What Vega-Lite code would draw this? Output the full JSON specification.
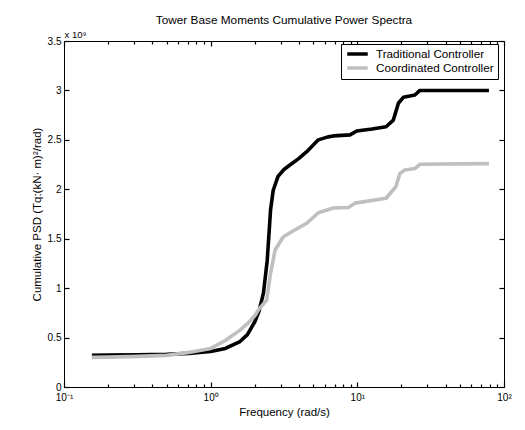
{
  "$schema": "https://vega.github.io/schema/vega-lite/v6.json",
  "width": 440,
  "height": 346,
  "autosize": "none",
  "padding": {"left": 64, "top": 41, "right": 21, "bottom": 43},
  "background": "white",
  "title": {"text": "Tower Base Moments Cumulative Power Spectra", "fontSize": 11.8, "fontWeight": "normal", "font": "Liberation Sans", "color": "black", "anchor": "middle", "frame": "group", "offset": 2},
  "config": {
    "view": {"stroke": "black", "strokeWidth": 1},
    "font": "Liberation Sans",
    "axis": {"grid": false, "domain": false, "labelFont": "Liberation Sans", "labelFontSize": 10, "labelColor": "black", "titleFont": "Liberation Sans", "titleFontSize": 11.5, "titleFontWeight": "normal", "titleColor": "black"}
  },
  "datasets": {
    "psd": [
      {"controller": "Traditional Controller", "freq": 0.155, "psd": 3.2e8},
      {"controller": "Traditional Controller", "freq": 0.2, "psd": 3.22e8},
      {"controller": "Traditional Controller", "freq": 0.316, "psd": 3.25e8},
      {"controller": "Traditional Controller", "freq": 0.5, "psd": 3.3e8},
      {"controller": "Traditional Controller", "freq": 0.71, "psd": 3.4e8},
      {"controller": "Traditional Controller", "freq": 1.0, "psd": 3.6e8},
      {"controller": "Traditional Controller", "freq": 1.26, "psd": 3.9e8},
      {"controller": "Traditional Controller", "freq": 1.585, "psd": 4.6e8},
      {"controller": "Traditional Controller", "freq": 1.78, "psd": 5.3e8},
      {"controller": "Traditional Controller", "freq": 2.0, "psd": 6.6e8},
      {"controller": "Traditional Controller", "freq": 2.14, "psd": 7.7e8},
      {"controller": "Traditional Controller", "freq": 2.29, "psd": 9.5e8},
      {"controller": "Traditional Controller", "freq": 2.43, "psd": 1.28e9},
      {"controller": "Traditional Controller", "freq": 2.56, "psd": 1.79e9},
      {"controller": "Traditional Controller", "freq": 2.67, "psd": 1.99e9},
      {"controller": "Traditional Controller", "freq": 2.88, "psd": 2.13e9},
      {"controller": "Traditional Controller", "freq": 3.16, "psd": 2.2e9},
      {"controller": "Traditional Controller", "freq": 3.47, "psd": 2.245e9},
      {"controller": "Traditional Controller", "freq": 3.98, "psd": 2.31e9},
      {"controller": "Traditional Controller", "freq": 4.52, "psd": 2.38e9},
      {"controller": "Traditional Controller", "freq": 5.42, "psd": 2.5e9},
      {"controller": "Traditional Controller", "freq": 6.31, "psd": 2.53e9},
      {"controller": "Traditional Controller", "freq": 6.86, "psd": 2.54e9},
      {"controller": "Traditional Controller", "freq": 8.91, "psd": 2.55e9},
      {"controller": "Traditional Controller", "freq": 9.91, "psd": 2.59e9},
      {"controller": "Traditional Controller", "freq": 12.6, "psd": 2.61e9},
      {"controller": "Traditional Controller", "freq": 15.7, "psd": 2.633e9},
      {"controller": "Traditional Controller", "freq": 17.6, "psd": 2.7e9},
      {"controller": "Traditional Controller", "freq": 19.05, "psd": 2.87e9},
      {"controller": "Traditional Controller", "freq": 20.6, "psd": 2.93e9},
      {"controller": "Traditional Controller", "freq": 24.7, "psd": 2.954e9},
      {"controller": "Traditional Controller", "freq": 26.7, "psd": 3.0e9},
      {"controller": "Traditional Controller", "freq": 39.8, "psd": 3.0e9},
      {"controller": "Traditional Controller", "freq": 79, "psd": 3.0e9},
      {"controller": "Coordinated Controller", "freq": 0.155, "psd": 3.0e8},
      {"controller": "Coordinated Controller", "freq": 0.2, "psd": 3.02e8},
      {"controller": "Coordinated Controller", "freq": 0.316, "psd": 3.1e8},
      {"controller": "Coordinated Controller", "freq": 0.5, "psd": 3.2e8},
      {"controller": "Coordinated Controller", "freq": 0.71, "psd": 3.5e8},
      {"controller": "Coordinated Controller", "freq": 1.0, "psd": 3.9e8},
      {"controller": "Coordinated Controller", "freq": 1.26, "psd": 4.7e8},
      {"controller": "Coordinated Controller", "freq": 1.585, "psd": 5.75e8},
      {"controller": "Coordinated Controller", "freq": 1.78, "psd": 6.4e8},
      {"controller": "Coordinated Controller", "freq": 2.0, "psd": 7.2e8},
      {"controller": "Coordinated Controller", "freq": 2.14, "psd": 7.9e8},
      {"controller": "Coordinated Controller", "freq": 2.29, "psd": 8.4e8},
      {"controller": "Coordinated Controller", "freq": 2.41, "psd": 8.8e8},
      {"controller": "Coordinated Controller", "freq": 2.56, "psd": 1.15e9},
      {"controller": "Coordinated Controller", "freq": 2.75, "psd": 1.386e9},
      {"controller": "Coordinated Controller", "freq": 3.13, "psd": 1.52e9},
      {"controller": "Coordinated Controller", "freq": 3.76, "psd": 1.59e9},
      {"controller": "Coordinated Controller", "freq": 4.52, "psd": 1.656e9},
      {"controller": "Coordinated Controller", "freq": 5.42, "psd": 1.763e9},
      {"controller": "Coordinated Controller", "freq": 6.86, "psd": 1.81e9},
      {"controller": "Coordinated Controller", "freq": 8.69, "psd": 1.815e9},
      {"controller": "Coordinated Controller", "freq": 9.64, "psd": 1.86e9},
      {"controller": "Coordinated Controller", "freq": 15.7, "psd": 1.909e9},
      {"controller": "Coordinated Controller", "freq": 18.3, "psd": 2.026e9},
      {"controller": "Coordinated Controller", "freq": 19.5, "psd": 2.16e9},
      {"controller": "Coordinated Controller", "freq": 21.1, "psd": 2.195e9},
      {"controller": "Coordinated Controller", "freq": 24.7, "psd": 2.21e9},
      {"controller": "Coordinated Controller", "freq": 26.7, "psd": 2.253e9},
      {"controller": "Coordinated Controller", "freq": 79, "psd": 2.26e9}
    ]
  },
  "data": {"name": "psd"},
  "layer": [
    {
      "mark": {"type": "line", "strokeWidth": 3.6, "strokeJoin": "round"},
      "encoding": {
        "x": {"field": "freq", "type": "quantitative", "scale": {"type": "log", "domain": [0.1, 100], "nice": false},
          "axis": {"orient": "bottom", "values": [0.1, 1, 10, 100], "ticks": false, "labelPadding": 5, "labelFlush": false,
            "labelExpr": "datum.value < 0.5 ? '10⁻¹' : datum.value < 5 ? '10⁰' : datum.value < 50 ? '10¹' : '10²'",
            "title": "Frequency (rad/s)", "titlePadding": 4}},
        "y": {"field": "psd", "type": "quantitative", "scale": {"domain": [0, 3.5e9], "nice": false},
          "axis": {"orient": "left", "values": [0, 5e8, 1e9, 1.5e9, 2e9, 2.5e9, 3e9, 3.5e9], "ticks": false, "labelPadding": 3,
            "labelExpr": "'' + datum.value / 1e9", "title": "Cumulative PSD (Tq:(kN· m)²/rad)", "titlePadding": 5}},
        "color": {"field": "controller", "type": "nominal",
          "scale": {"domain": ["Traditional Controller", "Coordinated Controller"], "range": ["#000000", "#bfbfbf"]},
          "legend": {"orient": "none", "legendX": 277, "legendY": 3, "title": null, "strokeColor": "black", "fillColor": "white",
            "padding": 4, "symbolType": "stroke", "symbolStrokeWidth": 3.6, "symbolSize": 420, "clipHeight": 12, "labelFontSize": 11.7,
            "labelFont": "Liberation Sans", "labelColor": "black", "rowPadding": 1, "labelOffset": 6}}
      }
    },
    {
      "mark": {"type": "point", "opacity": 0},
      "encoding": {
        "x": {"field": "freq", "type": "quantitative", "axis": {"orient": "bottom", "values": [0.1, 1, 10, 100], "labels": false, "ticks": true, "tickSize": -5, "tickColor": "black", "tickWidth": 1.2, "title": null}},
        "y": {"field": "psd", "type": "quantitative", "axis": {"orient": "left", "values": [0, 5e8, 1e9, 1.5e9, 2e9, 2.5e9, 3e9, 3.5e9], "labels": false, "ticks": true, "tickSize": -5, "tickColor": "black", "tickWidth": 1.2, "title": null}}
      }
    },
    {
      "mark": {"type": "point", "opacity": 0},
      "encoding": {
        "x": {"field": "freq", "type": "quantitative", "axis": {"orient": "bottom", "values": [0.2, 0.3, 0.4, 0.5, 0.6, 0.7, 0.8, 0.9, 2, 3, 4, 5, 6, 7, 8, 9, 20, 30, 40, 50, 60, 70, 80, 90], "labels": false, "ticks": true, "tickSize": -3, "tickColor": "black", "tickWidth": 1.2, "title": null}},
        "y": {"field": "psd", "type": "quantitative", "axis": {"orient": "right", "values": [0, 5e8, 1e9, 1.5e9, 2e9, 2.5e9, 3e9, 3.5e9], "labels": false, "ticks": true, "tickSize": -5, "tickColor": "black", "tickWidth": 1.2, "title": null}}
      }
    },
    {
      "mark": {"type": "point", "opacity": 0},
      "encoding": {
        "x": {"field": "freq", "type": "quantitative", "axis": {"orient": "top", "values": [0.1, 1, 10, 100], "labels": false, "ticks": true, "tickSize": -5, "tickColor": "black", "tickWidth": 1.2, "title": null}},
        "y": {"field": "psd", "type": "quantitative", "axis": {"orient": "left", "labels": false, "ticks": false, "title": "x 10⁹", "titleAngle": 0, "titleAlign": "left", "titleBaseline": "bottom", "titleX": 0, "titleY": -2, "titleFontSize": 9.5}}
      }
    },
    {
      "mark": {"type": "point", "opacity": 0},
      "encoding": {
        "x": {"field": "freq", "type": "quantitative", "axis": {"orient": "top", "values": [0.2, 0.3, 0.4, 0.5, 0.6, 0.7, 0.8, 0.9, 2, 3, 4, 5, 6, 7, 8, 9, 20, 30, 40, 50, 60, 70, 80, 90], "labels": false, "ticks": true, "tickSize": -3, "tickColor": "black", "tickWidth": 1.2, "title": null}},
        "y": {"field": "psd", "type": "quantitative", "axis": null}
      }
    }
  ],
  "resolve": {"axis": {"x": "independent", "y": "independent"}}
}
